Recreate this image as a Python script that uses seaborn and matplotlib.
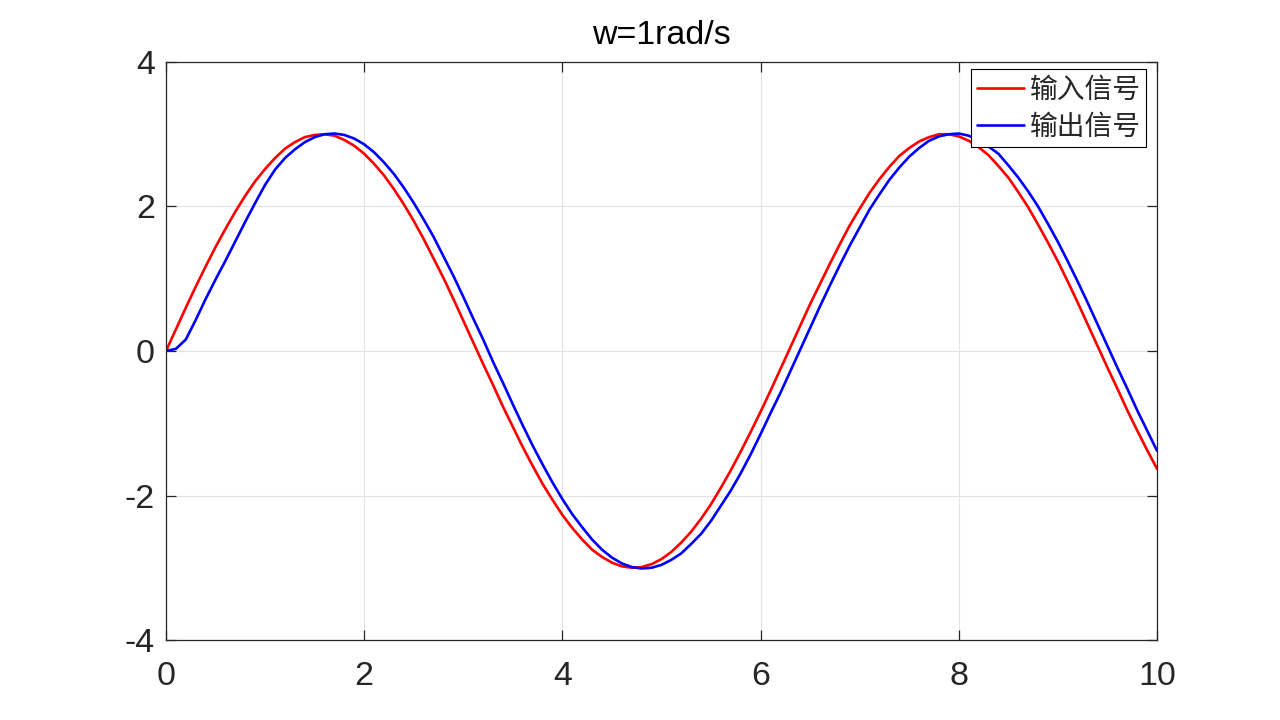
import numpy as np
import pandas as pd
import matplotlib
matplotlib.use("Agg")
import matplotlib.pyplot as plt
import seaborn as sns

# 时间轴 (s), 步长 0.1
t = [round(0.1 * i, 1) for i in range(101)]

# 输入信号
u_in = [0.00, 0.30, 0.60, 0.89, 1.17, 1.44, 1.69, 1.93, 2.15, 2.35,
        2.52, 2.67, 2.80, 2.89, 2.96, 2.99, 3.00, 2.98, 2.92, 2.84,
        2.73, 2.59, 2.43, 2.24, 2.03, 1.80, 1.55, 1.28, 1.01, 0.72,
        0.42, 0.12, -0.18, -0.47, -0.77, -1.05, -1.33, -1.59, -1.84, -2.06,
        -2.27, -2.45, -2.61, -2.75, -2.85, -2.93, -2.98, -3.00, -2.99, -2.95,
        -2.88, -2.78, -2.65, -2.50, -2.32, -2.12, -1.89, -1.65, -1.39, -1.12,
        -0.84, -0.55, -0.25, 0.05, 0.35, 0.65, 0.93, 1.21, 1.48, 1.74,
        1.97, 2.19, 2.38, 2.55, 2.70, 2.81, 2.90, 2.96, 3.00, 3.00,
        2.97, 2.91, 2.82, 2.71, 2.56, 2.40, 2.20, 1.99, 1.75, 1.50,
        1.24, 0.96, 0.67, 0.37, 0.07, -0.23, -0.52, -0.82, -1.10, -1.37,
        -1.63]

# 输出信号
y_out = [0.00, 0.03, 0.16, 0.43, 0.72, 0.99, 1.25, 1.52, 1.79, 2.05,
         2.30, 2.51, 2.67, 2.79, 2.89, 2.96, 3.00, 3.01, 2.99, 2.94,
         2.86, 2.75, 2.61, 2.45, 2.26, 2.05, 1.82, 1.58, 1.31, 1.04,
         0.75, 0.45, 0.16, -0.15, -0.44, -0.74, -1.03, -1.31, -1.57, -1.82,
         -2.05, -2.26, -2.44, -2.61, -2.75, -2.86, -2.94, -2.99, -3.01, -3.00,
         -2.96, -2.89, -2.80, -2.67, -2.53, -2.35, -2.14, -1.93, -1.69, -1.43,
         -1.15, -0.86, -0.58, -0.28, 0.02, 0.32, 0.62, 0.91, 1.19, 1.46,
         1.71, 1.96, 2.17, 2.37, 2.54, 2.69, 2.81, 2.91, 2.97, 3.00,
         3.01, 2.98, 2.92, 2.83, 2.73, 2.57, 2.40, 2.21, 2.00, 1.76,
         1.51, 1.24, 0.96, 0.67, 0.37, 0.07, -0.23, -0.52, -0.82, -1.10,
         -1.38]

labels = ["输入信号", "输出信号"]

df = pd.DataFrame({"t": t, labels[0]: u_in, labels[1]: y_out})

sns.set_theme(style="white")
plt.rcParams["font.family"] = ["Liberation Sans", "Noto Sans CJK SC", "DejaVu Sans"]
plt.rcParams["axes.unicode_minus"] = False

fig = plt.figure(figsize=(12.8, 7.2), dpi=100)
ax = fig.add_axes([0.1297, 0.1111, 0.7742, 0.8028])

sns.lineplot(data=df, x="t", y=labels[0], color="#ff0000", linewidth=1.9, label=labels[0], ax=ax)
sns.lineplot(data=df, x="t", y=labels[1], color="#0000ff", linewidth=1.9, label=labels[1], ax=ax)

ax.set_xlim(0, 10)
ax.set_ylim(-4, 4)
ax.set_xticks([0, 2, 4, 6, 8, 10])
ax.set_yticks([-4, -2, 0, 2, 4])
ax.set_xlabel("")
ax.set_ylabel("")
ax.set_title("w=1rad/s", fontsize=24.5, color="#000000", pad=13)

ax.grid(True, color="#e3e3e3", linewidth=0.8)
for s in ax.spines.values():
    s.set_visible(True)
    s.set_color("#262626")
    s.set_linewidth(0.9)
ax.tick_params(direction="in", length=7, width=0.9, colors="#262626",
               labelsize=24.5, top=True, right=True, bottom=True, left=True,
               labelcolor="#262626")
ax.tick_params(axis="x", pad=15)
ax.tick_params(axis="y", pad=8)

leg = ax.legend(loc="upper right", bbox_to_anchor=(0.9889, 0.9879), frameon=True,
                fancybox=False, framealpha=1, edgecolor="#000000", borderaxespad=0,
                handlelength=1.7, handletextpad=0.2, borderpad=0.2,
                labelspacing=0.25, prop={"family": ["Noto Sans CJK SC"], "size": 20})
leg.get_frame().set_linewidth(0.8)

fig.savefig("out.png", dpi=100)
